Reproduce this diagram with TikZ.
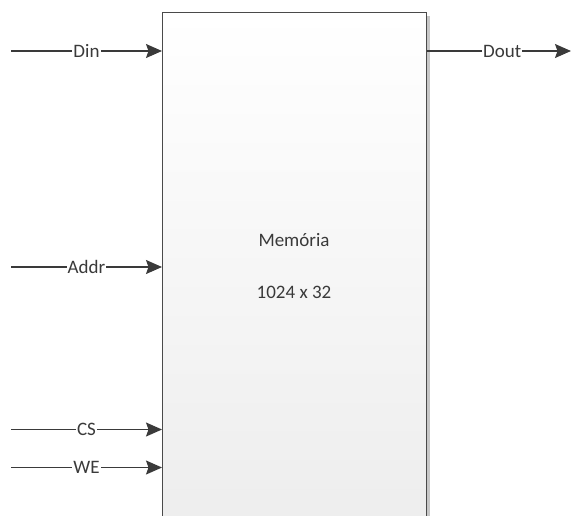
\documentclass[tikz,border=0pt]{standalone}
\usepackage{fontspec}
\setmainfont{Carlito}
\usetikzlibrary{arrows.meta}
\definecolor{ink}{HTML}{3A3A3A}
\definecolor{frame}{HTML}{4A4A4A}
\definecolor{pale}{HTML}{ECECEC}

\begin{document}
\begin{tikzpicture}[x=1pt,y=-1pt,>={Stealth[length=16pt,width=14pt,inset=2.5pt]},
  wire/.style={->,line width=1.3pt,color=ink},
  tag/.style={fill=white,inner sep=1pt,font=\fontsize{19}{22}\selectfont,text=ink}]
  \useasboundingbox (0,0) rectangle (572,515);
  \clip (0,0) rectangle (572,515);
  % shadow of the memory block
  \fill[black!22] (165,16) rectangle (429.5,560);
  \node[draw=frame,line width=1.4pt,top color=white,bottom color=pale,minimum width=264pt,minimum height=548pt,anchor=north west,inner sep=0pt] (mem) at (162,12) {};
  \node[font=\fontsize{19}{22}\selectfont,text=ink] (title) at (294,240) {Memória};
  \node[font=\fontsize{19}{22}\selectfont,text=ink] (size) at (294,292) {1024 x 32};
  % inputs
  \coordinate (din) at (11,51);
  \coordinate (addr) at (11,267);
  \coordinate (cs) at (11,429.5);
  \coordinate (we) at (11,467.5);
  \draw[wire] (din) -- node[tag] {Din} (din -| mem.west);
  \draw[wire] (addr) -- node[tag] {Addr} (addr -| mem.west);
  \draw[wire] (cs) -- node[tag] {CS} (cs -| mem.west);
  \draw[wire] (we) -- node[tag] {WE} (we -| mem.west);
  % output
  \coordinate (dout) at (571,51);
  \draw[wire] (dout -| mem.east) -- node[tag,xshift=3pt] {Dout} (dout);
\end{tikzpicture}
\end{document}
